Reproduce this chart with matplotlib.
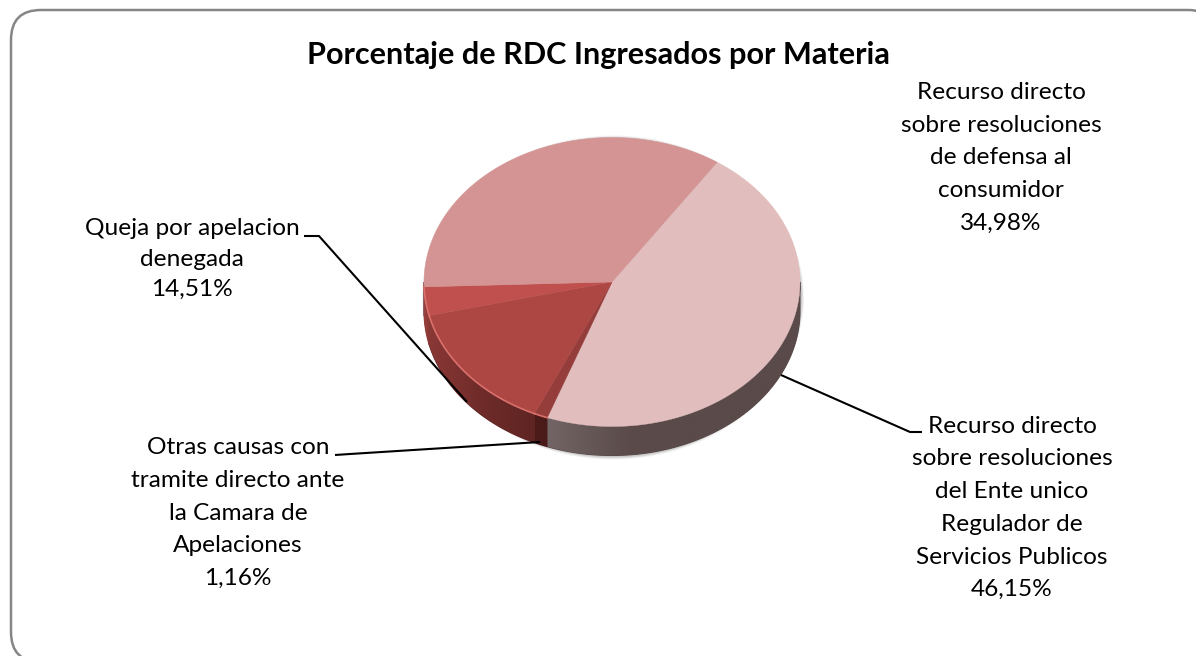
import numpy as np
import matplotlib
matplotlib.use('Agg')
import matplotlib.pyplot as plt
from matplotlib.colors import LinearSegmentedColormap
from matplotlib.patches import FancyBboxPatch, Polygon

plt.rcParams['font.family'] = ['Lato', 'DejaVu Sans']

# datos (sentido horario desde el corte superior derecho)
values = [46.15, 1.16, 14.51, 3.20, 34.98]
top_colors = ['#E2BDBD', '#953D3B', '#AD4744', '#C0504D', '#D49494']
# colores de la pared lateral, de izquierda a derecha
side_colors = [
    ['#736565', '#5A4A4A', '#5A4A4A', '#5A4A4A'],
    ['#4A1B19', '#4A1B19'],
    ['#8A3836', '#6E2B29', '#5F2523'],
    ['#9A3F3D', '#8A3836'],
    ['#8F6060', '#8F6060'],
]
labels = [
    'Recurso directo\nsobre resoluciones\ndel Ente unico\nRegulador de\nServicios Publicos\n46,15%',
    'Otras causas con\ntramite directo ante\nla Camara de\nApelaciones\n1,16%',
    'Queja por apelacion\ndenegada\n14,51%',
    'Recurso directo\nsobre resoluciones\nde defensa al\nconsumidor\n34,98%',
]
label_pos = [(1012, 508), (238, 513), (192, 259), (1001, 158)]
label_spacing = [1.69, 1.7, 1.53, 1.7]
leaders = [
    [(781, 375), (910, 432), (922, 432)],
    [(540, 442), (350, 454), (335, 455)],
    [(467, 402), (319, 236), (304, 236)],
]

cx, cy, rx, ry, depth = 612, 282, 188, 144.5, 29
start = 34.0

fig = plt.figure(figsize=(11.96, 6.56), dpi=100)
ax = fig.add_axes([0, 0, 1, 1])
ax.set_xlim(0, 1196)
ax.set_ylim(656, 0)
ax.axis('off')

# marco redondeado
ax.add_patch(FancyBboxPatch((11, 10), 1207, 652, boxstyle='round,pad=0,rounding_size=30',
                            fc='white', ec='#868686', lw=1.8, zorder=0))


def rim(a):
    a = np.radians(a)
    return cx + rx * np.sin(a), cy - ry * np.cos(a)


# sombra suave
t = np.linspace(0, 2 * np.pi, 200)
for grow, alpha in [(3, 0.05), (2, 0.07), (1, 0.1)]:
    ax.fill(cx + 1 + (rx + grow) * np.sin(t), cy + depth / 2 + 1 + (ry + depth / 2 + grow) * np.cos(t),
            color='black', alpha=alpha, lw=0, zorder=1)

angles = start + np.concatenate([[0], np.cumsum(values)]) * 3.6

# pared lateral
for i in range(len(values)):
    vis0, vis1 = max(angles[i], 90), min(angles[i + 1], 270)
    if vis1 <= vis0:
        continue
    arc = np.linspace(vis0, vis1, 120)
    xs, ys = rim(arc)
    wall = np.c_[np.r_[xs, xs[::-1]], np.r_[ys, ys[::-1] + depth]]
    # base para tapar la costura entre porciones
    ax.add_patch(Polygon(wall, closed=True, fc=side_colors[i][-1], ec=side_colors[i][-1], lw=0.8, zorder=1.5))
    clip = Polygon(wall, closed=True, transform=ax.transData, fc='none', ec='none')
    ax.add_patch(clip)
    cmap = LinearSegmentedColormap.from_list('lado', side_colors[i])
    im = ax.imshow(np.linspace(0, 1, 256)[None, :], cmap=cmap, aspect='auto', zorder=2,
                   extent=[xs.min(), xs.max(), ys.max() + depth, ys.min()])
    im.set_clip_path(clip)
ax.set_xlim(0, 1196)
ax.set_ylim(656, 0)

# cara superior
for i in range(len(values)):
    arc = np.linspace(angles[i], angles[i + 1], 120)
    xs, ys = rim(arc)
    ax.fill(np.r_[cx, xs], np.r_[cy, ys], color=top_colors[i], lw=0.3, zorder=3)
    if top_colors[i] in ('#953D3B', '#AD4744', '#C0504D'):
        ax.plot(xs, ys, color='#D9706C', lw=1.2, zorder=4)

for pts in leaders:
    ax.plot(*zip(*pts), color='black', lw=1.5, solid_capstyle='butt', zorder=5)

ax.text(598, 55, 'Porcentaje de RDC Ingresados por Materia', ha='center', va='center',
        fontsize=22.1, fontweight='bold', color='black', zorder=6)
for txt, (x, y), sp in zip(labels, label_pos, label_spacing):
    ax.text(x, y, txt, ha='center', va='center', fontsize=17.6, color='black',
            linespacing=sp, zorder=6)

fig.savefig('out.png', dpi=100)
